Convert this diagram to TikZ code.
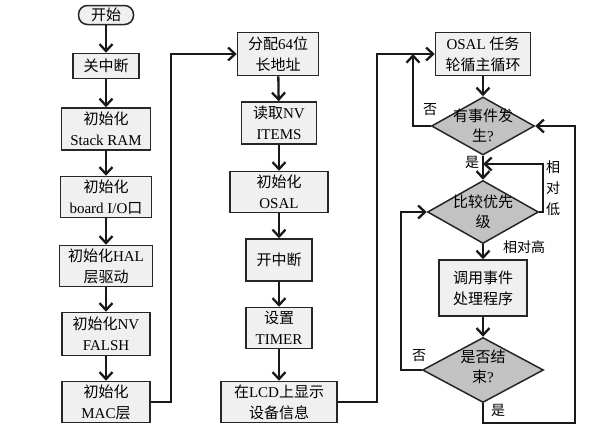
\documentclass[tikz,border=0pt]{standalone}
\usepackage{fontspec}
\setmainfont{Liberation Serif}
\newfontfamily\zhfont{Noto Sans CJK SC}
\newcommand\zht[1]{{\zhfont #1}}
\usetikzlibrary{arrows.meta,shapes.geometric}
\begin{document}
\begin{tikzpicture}[x=1pt,y=-1pt,
  box/.style={draw=black!85, fill=black!6, line width=1.5pt, inner sep=0pt, align=center,
              font=\fontsize{15}{21}\selectfont},
  dia/.style={diamond, draw=black!85, fill=black!24, line width=1.5pt, inner sep=0pt},
  dtext/.style={align=center, inner sep=0pt, font=\fontsize{15}{20}\selectfont},
  conn/.style={line width=2.3pt, draw=black!90, -{Straight Barb[length=7pt,width=13pt]}},
  lab/.style={inner sep=0pt, font=\fontsize{14}{18}\selectfont}]
\useasboundingbox[fill=white] (0,0) rectangle (590,432);
% column 1
\node[box, rounded corners=9pt, minimum width=55pt, minimum height=19pt] (s) at (106,15) {\zht{开始}};
\node[box, minimum width=66pt, minimum height=25pt] (a1) at (106,66) {\zht{关中断}};
\node[box, minimum width=89pt, minimum height=42pt] (a2) at (106,129) {\zht{初始化}\\Stack RAM};
\node[box, minimum width=91pt, minimum height=41pt] (a3) at (106,197) {\zht{初始化}\\board I/O\zht{口}};
\node[box, minimum width=93pt, minimum height=41pt] (a4) at (106,266) {\zht{初始化}HAL\\\zht{层驱动}};
\node[box, minimum width=88pt, minimum height=43pt] (a5) at (106,334) {\zht{初始化}NV\\FALSH};
\node[box, minimum width=88pt, minimum height=41pt] (a6) at (106,402) {\zht{初始化}\\MAC\zht{层}};
% column 2
\node[box, minimum width=81pt, minimum height=43pt] (b1) at (278,54) {\zht{分配}64\zht{位}\\\zht{长地址}};
\node[box, minimum width=75pt, minimum height=42pt] (b2) at (279,123) {\zht{读取}NV\\ITEMS};
\node[box, minimum width=98pt, minimum height=41pt] (b3) at (279,192) {\zht{初始化}\\OSAL};
\node[box, minimum width=66pt, minimum height=42pt] (b4) at (279,260) {\zht{开中断}};
\node[box, minimum width=66pt, minimum height=41pt] (b5) at (279,328) {\zht{设置}\\TIMER};
\node[box, minimum width=116pt, minimum height=41pt] (b6) at (279,402) {\zht{在}LCD\zht{上显示}\\\zht{设备信息}};
% column 3
\node[box, minimum width=95pt, minimum height=43pt] (c1) at (483,54) {OSAL \zht{任务}\\\zht{轮循主循环}};
\node[dia, minimum width=103pt, minimum height=58pt] (d1) at (483,126) {};
\node[dtext] (d1t) at (483,126) {\zht{有事件发}\\\zht{生}?};
\node[dia, minimum width=111pt, minimum height=63pt] (d2) at (483,212) {};
\node[dtext] (d2t) at (483,212) {\zht{比较优先}\\\zht{级}};
\node[box, minimum width=88pt, minimum height=56pt] (c2) at (483,288) {\zht{调用事件}\\\zht{处理程序}};
\node[dia, minimum width=121pt, minimum height=65pt] (d3) at (483,370) {};
\node[dtext] (d3t) at (483,367) {\zht{是否结}\\\zht{束}?};
% coordinates
\coordinate (j1) at (413,54);
\coordinate (j2) at (483,164);
% connectors column 1
\draw[conn] (s) -- (a1);
\draw[conn] (a1) -- (a2);
\draw[conn] (a2) -- (a3);
\draw[conn] (a3) -- (a4);
\draw[conn] (a4) -- (a5);
\draw[conn] (a5) -- (a6);
\draw[conn] (a6.east) -- ++(20,0) |- (b1.west);
% column 2
\draw[conn] (b1) -- (b2);
\draw[conn] (b2) -- (b3);
\draw[conn] (b3) -- (b4);
\draw[conn] (b4) -- (b5);
\draw[conn] (b5) -- (b6);
\draw[conn] (b6.east) -- ++(39,0) |- (c1.west);
% column 3
\draw[conn] (c1) -- (d1);
\draw[conn] (d1.west) -| (j1);
\draw[conn] (d1) -- (d2);
\draw[conn] (d2.east) -- ++(4,0) |- (j2);
\draw[conn] (d2) -- (c2);
\draw[conn] (c2) -- (d3);
\draw[conn] (d3.west) -- ++(-21,0) |- (d2.west);
\draw[conn] (d3.south) -- ++(0,20) -| (575,126) -- (d1.east);
% labels
\node[lab] (l1) at (430,110) {\zht{否}};
\node[lab] (l2) at (472,162) {\zht{是}};
\node[lab, align=center, font=\fontsize{14}{21}\selectfont] (l3) at (553,188) {\zht{相}\\\zht{对}\\\zht{低}};
\node[lab] (l4) at (524,247) {\zht{相对高}};
\node[lab] (l5) at (419,356) {\zht{否}};
\node[lab] (l6) at (498,410) {\zht{是}};
\end{tikzpicture}
\end{document}
